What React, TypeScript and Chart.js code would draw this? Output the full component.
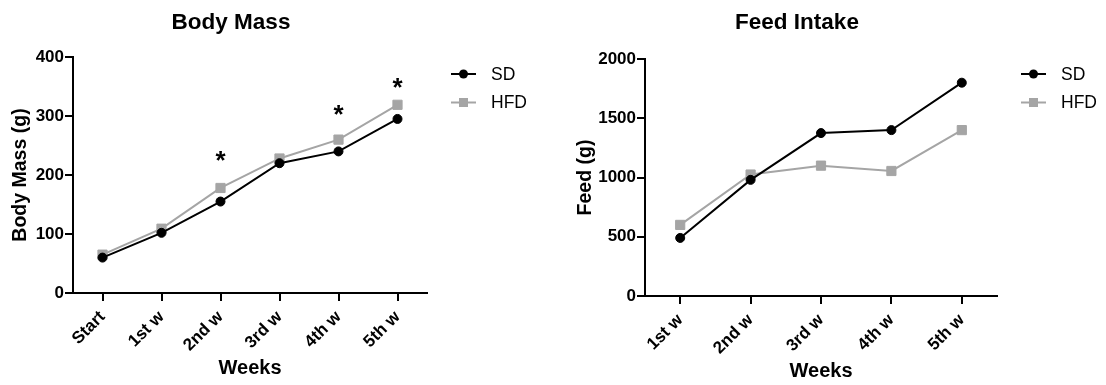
import React, { useEffect, useRef } from 'react';
import { Chart, registerables } from 'chart.js';

Chart.register(...registerables);

const FONT = 'Arial, "Liberation Sans", Helvetica, sans-serif';

// ---- Body Mass data ----
const bodyWeeks = ['Start', '1st w', '2nd w', '3rd w', '4th w', '5th w'];
const bodySD = [60, 102, 155, 220, 240, 295];
const bodyHFD = [65, 109, 178, 228, 260, 319];
const bodyStars: (number | null)[] = [null, null, 237, null, 315, 361];
const bodyTicks = [0, 100, 200, 300, 400];

// ---- Feed Intake data ----
const feedWeeks = ['1st w', '2nd w', '3rd w', '4th w', '5th w'];
const feedSD = [490, 980, 1375, 1400, 1800];
const feedHFD = [600, 1025, 1100, 1055, 1400];
const feedTicks = [0, 500, 1000, 1500, 2000];

const seriesNames = ['SD', 'HFD'];
const SD_COLOR = '#000000';
const HFD_COLOR = '#a5a5a5';

const decorPlugin = {
  id: 'decor',
  afterDraw(chart: any, _args: any, opts: any) {
    const ctx = chart.ctx;
    const area = chart.chartArea;
    ctx.save();
    // title
    ctx.fillStyle = '#000';
    ctx.textAlign = 'center';
    ctx.textBaseline = 'middle';
    ctx.font = `bold ${opts.titleSize}px ${FONT}`;
    ctx.fillText(opts.title, (area.left + area.right) / 2 + opts.titleDx, opts.titleY);

    // legend
    chart.data.datasets.forEach((ds: any, i: number) => {
      const y = opts.legendY + i * opts.legendGap;
      const x0 = area.right + opts.legendDx;
      ctx.strokeStyle = ds.borderColor;
      ctx.fillStyle = ds.borderColor;
      ctx.lineWidth = 2;
      ctx.beginPath();
      ctx.moveTo(x0, y);
      ctx.lineTo(x0 + 25, y);
      ctx.stroke();
      const cx = x0 + 12.5;
      ctx.beginPath();
      if (ds.pointStyle === 'rect') {
        ctx.rect(cx - 4.5, y - 4.5, 9, 9);
      } else {
        ctx.arc(cx, y, 4.5, 0, Math.PI * 2);
      }
      ctx.fill();
      ctx.fillStyle = '#000';
      ctx.font = `${opts.legendSize}px ${FONT}`;
      ctx.textAlign = 'left';
      ctx.textBaseline = 'middle';
      ctx.fillText(ds.label, x0 + 40, y + 1);
    });

    // significance stars
    if (opts.stars) {
      const xs = chart.scales.x;
      const ys = chart.scales.y;
      ctx.fillStyle = '#000';
      ctx.font = `bold ${opts.starSize}px ${FONT}`;
      ctx.textAlign = 'center';
      ctx.textBaseline = 'alphabetic';
      opts.stars.forEach((v: number | null, i: number) => {
        if (v == null) return;
        ctx.fillText('*', xs.getPixelForValue(i), ys.getPixelForValue(v) + opts.starSize * 0.62);
      });
    }
    ctx.restore();
  },
};

type Geo = {
  padTop: number;
  padRight: number;
  yWidth: number;
  xHeight: number;
  yTitlePad: number;
  xTitlePad: number;
  titleDx: number;
};

function makeConfig(
  labels: string[],
  sd: number[],
  hfd: number[],
  ticks: number[],
  yTitle: string,
  title: string,
  stars: (number | null)[] | null,
  geo: Geo
): any {
  const axisColor = '#000';
  return {
    type: 'line',
    data: {
      labels,
      datasets: [
        {
          label: seriesNames[0],
          data: sd,
          borderColor: SD_COLOR,
          backgroundColor: SD_COLOR,
          pointBackgroundColor: SD_COLOR,
          pointBorderColor: SD_COLOR,
          borderWidth: 2,
          pointStyle: 'circle',
          pointRadius: 4.5,
          pointBorderWidth: 1,
          tension: 0,
        },
        {
          label: seriesNames[1],
          data: hfd,
          borderColor: HFD_COLOR,
          backgroundColor: HFD_COLOR,
          pointBackgroundColor: HFD_COLOR,
          pointBorderColor: HFD_COLOR,
          borderWidth: 2,
          pointStyle: 'rect',
          pointRadius: 6.5,
          pointBorderWidth: 1,
          tension: 0,
        },
      ],
    },
    options: {
      responsive: false,
      animation: false,
      layout: { padding: { top: geo.padTop, right: geo.padRight, left: 0, bottom: 0 } },
      plugins: {
        legend: { display: false },
        title: { display: false },
        tooltip: { enabled: false },
        decor: {
          title,
          titleSize: 22.5,
          titleY: 23,
          titleDx: geo.titleDx,
          legendY: 74,
          legendGap: 28.5,
          legendDx: 24,
          legendSize: 17.5,
          stars,
          starSize: 26,
        },
      },
      scales: {
        x: {
          type: 'category',
          offset: true,
          afterFit: (s: any) => {
            s.height = geo.xHeight;
          },
          grid: {
            display: true,
            offset: false,
            drawOnChartArea: false,
            drawTicks: true,
            tickLength: 8,
            color: axisColor,
            lineWidth: 2,
          },
          border: { display: true, color: axisColor, width: 2 },
          ticks: {
            color: '#000',
            minRotation: 45,
            maxRotation: 45,
            padding: 6,
            autoSkip: false,
            font: { family: FONT, size: 17, weight: 'bold' },
          },
          title: {
            display: true,
            text: 'Weeks',
            color: '#000',
            font: { family: FONT, size: 20, weight: 'bold' },
            padding: { top: 0, bottom: geo.xTitlePad },
          },
        },
        y: {
          min: ticks[0],
          max: ticks[ticks.length - 1],
          afterBuildTicks: (s: any) => {
            s.ticks = ticks.map((v) => ({ value: v }));
          },
          afterFit: (s: any) => {
            s.width = geo.yWidth;
          },
          grid: {
            display: true,
            drawOnChartArea: false,
            drawTicks: true,
            tickLength: 8,
            color: axisColor,
            lineWidth: 2,
          },
          border: { display: true, color: axisColor, width: 2 },
          ticks: {
            color: '#000',
            padding: 1,
            callback: (v: any) => String(v),
            font: { family: FONT, size: 17, weight: 'bold' },
          },
          title: {
            display: true,
            text: yTitle,
            color: '#000',
            font: { family: FONT, size: 19.5, weight: 'bold' },
            padding: { top: geo.yTitlePad, bottom: 0 },
          },
        },
      },
    },
    plugins: [decorPlugin],
  };
}

function ChartCanvas({ config, left }: { config: any; left: number }) {
  const ref = useRef<HTMLCanvasElement | null>(null);
  useEffect(() => {
    if (!ref.current) return;
    const chart = new Chart(ref.current, config);
    return () => chart.destroy();
  }, [config]);
  return (
    <canvas
      ref={ref}
      width={553}
      height={385}
      style={{ position: 'absolute', left, top: 0, width: 553, height: 385 }}
    />
  );
}

const bodyConfig = makeConfig(bodyWeeks, bodySD, bodyHFD, bodyTicks, 'Body Mass (g)', 'Body Mass', bodyStars, {
  padTop: 57,
  padRight: 553 - 427,
  yWidth: 73,
  xHeight: 385 - 293,
  yTitlePad: 9,
  xTitlePad: 5,
  titleDx: -19,
});

const feedConfig = makeConfig(feedWeeks, feedSD, feedHFD, feedTicks, 'Feed (g)', 'Feed Intake', null, {
  padTop: 59,
  padRight: 553 - 444,
  yWidth: 92,
  xHeight: 385 - 296,
  yTitlePad: 21,
  xTitlePad: 2,
  titleDx: -24,
});

export default function App() {
  return (
    <div style={{ position: 'absolute', left: 0, top: 0, width: 1106, height: 385, background: '#fff' }}>
      <ChartCanvas config={bodyConfig} left={0} />
      <ChartCanvas config={feedConfig} left={553} />
    </div>
  );
}
